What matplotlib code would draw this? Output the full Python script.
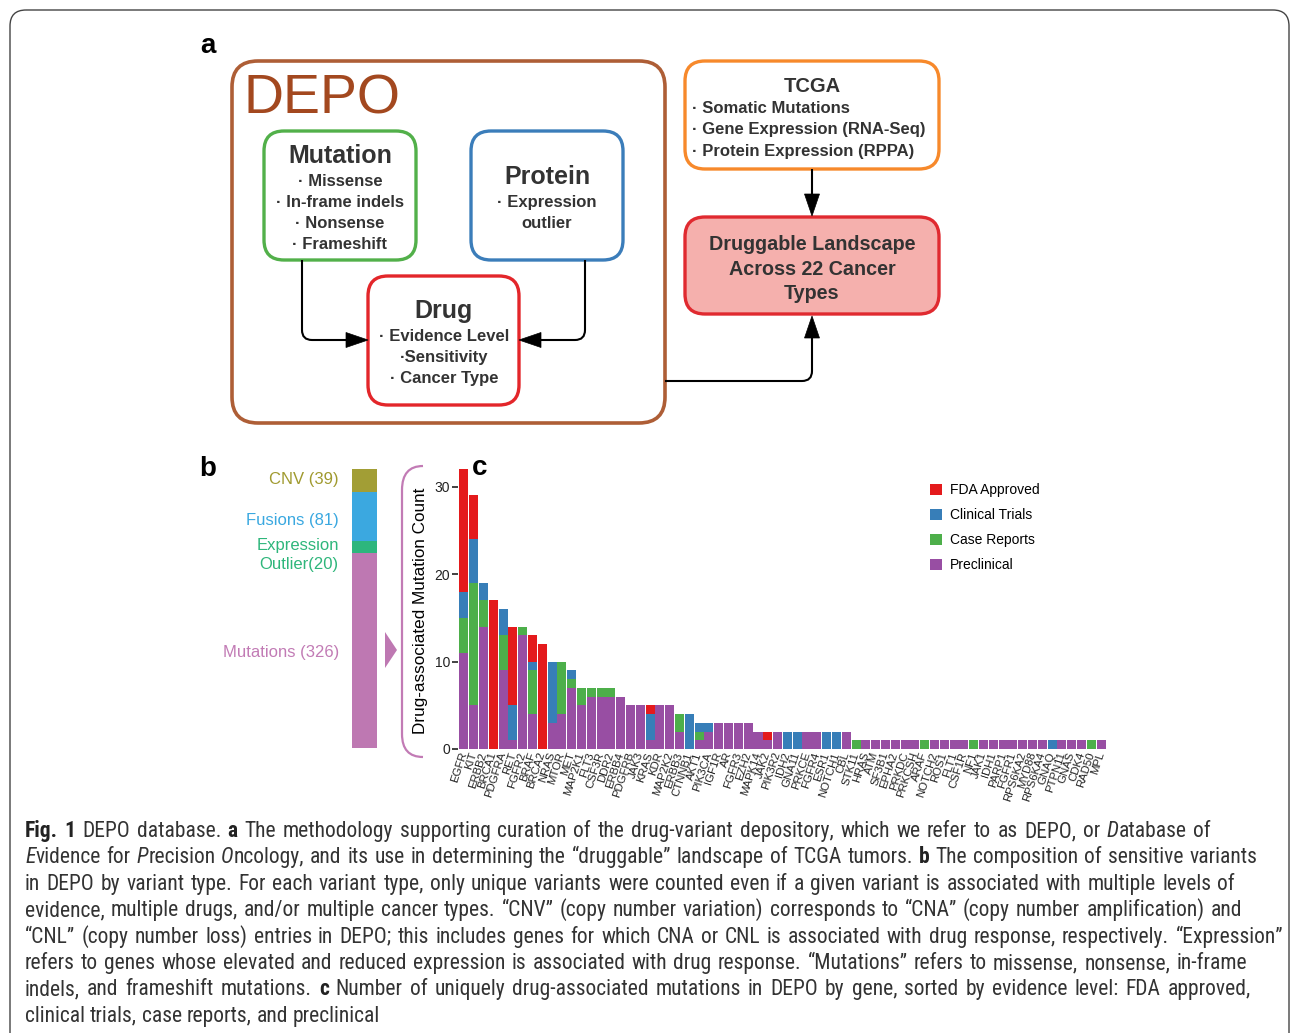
import matplotlib
matplotlib.use("Agg")
import matplotlib.pyplot as plt
from matplotlib.patches import FancyBboxPatch, Polygon, PathPatch, Patch
from matplotlib.path import Path
from matplotlib import font_manager
from matplotlib.transforms import IdentityTransform
import numpy as np

# ---------------- data ----------------
genes = ["EGFR", "KIT", "ERBB2", "BRCA1", "PDGFRA", "RET", "FGFR2", "BRAF", "BRCA2", "NRAS",
         "MTOR", "MET", "MAP2K1", "FLT3", "CSF3R", "DDR2", "ERBB4", "PDGFRB", "JAK3", "KRAS",
         "KDR", "MAP2K2", "ERBB3", "CTNNB1", "AKT1", "PIK3CA", "IGF1R", "AR", "FGFR3", "EZH2",
         "MAPK14", "JAK2", "PIK3R2", "IDH2", "GNA11", "PRKCE", "FGFR4", "ESR1", "NOTCH1", "CBL",
         "STK11", "HRAS", "ATM", "SF3B1", "EPHA2", "PRKDC", "PRKCSH", "ARAF", "NOTCH2", "ROS1",
         "FLT1", "CSF1R", "NF1", "JAK1", "IDH1", "PARP1", "FGFR1", "RPS6KA2", "MYD88", "RPS6KA4",
         "GNAQ", "PTPN11", "GNAS", "CDK4", "RAD50", "MPL"]
preclinical = [11, 5, 14, 0, 9, 1, 13, 4, 0, 3,
               4, 7, 5, 6, 6, 6, 6, 5, 5, 1,
               5, 5, 2, 0, 1, 2, 3, 3, 3, 3,
               2, 1, 2, 0, 0, 2, 2, 0, 0, 2,
               0, 1, 1, 1, 1, 1, 1, 0, 1, 1,
               1, 1, 0, 1, 1, 1, 1, 1, 1, 1,
               0, 1, 1, 1, 0, 1]
case_reports = [4, 14, 3, 0, 4, 0, 1, 5, 0, 0,
                6, 1, 2, 1, 1, 1, 0, 0, 0, 0,
                0, 0, 2, 0, 1, 0, 0, 0, 0, 0,
                0, 0, 0, 0, 0, 0, 0, 0, 0, 0,
                1, 0, 0, 0, 0, 0, 0, 1, 0, 0,
                0, 0, 1, 0, 0, 0, 0, 0, 0, 0,
                0, 0, 0, 0, 1, 0]
clinical_trials = [3, 5, 2, 0, 3, 4, 0, 1, 0, 7,
                   0, 1, 0, 0, 0, 0, 0, 0, 0, 3,
                   0, 0, 0, 4, 1, 1, 0, 0, 0, 0,
                   0, 0, 0, 2, 2, 0, 0, 2, 2, 0,
                   0, 0, 0, 0, 0, 0, 0, 0, 0, 0,
                   0, 0, 0, 0, 0, 0, 0, 0, 0, 0,
                   1, 0, 0, 0, 0, 0]
fda_approved = [14, 5, 0, 17, 0, 9, 0, 3, 12, 0,
                0, 0, 0, 0, 0, 0, 0, 0, 0, 1,
                0, 0, 0, 0, 0, 0, 0, 0, 0, 0,
                0, 1, 0, 0, 0, 0, 0, 0, 0, 0,
                0, 0, 0, 0, 0, 0, 0, 0, 0, 0,
                0, 0, 0, 0, 0, 0, 0, 0, 0, 0,
                0, 0, 0, 0, 0, 0]
evidence_labels = ["Preclinical", "Case Reports", "Clinical Trials", "FDA Approved"]
yticks_c = [0, 10, 20, 30]

comp_labels = ["Mutations (326)", "Expression\nOutlier(20)", "Fusions (81)", "CNV (39)"]
comp_values = [326, 20, 81, 39]

# ---------------- style ----------------
W, H = 1290, 1033
DPI = 100
names = {f.name for f in font_manager.fontManager.ttflist}
SANS = next((n for n in ["Liberation Sans", "Arial", "Helvetica", "Roboto"] if n in names), "DejaVu Sans")
CAPF = next((n for n in ["Liberation Sans Narrow", "Roboto Condensed", "Open Sans Condensed", "Lato"]
             if n in names), "DejaVu Sans")
plt.rcParams["font.family"] = [SANS, "DejaVu Sans"]

ev_colors = ["#984EA3", "#4DAF4A", "#377EB8", "#E41A1C"]
comp_colors = ["#BE78B2", "#2DB67D", "#3BA8E0", "#A29E35"]
comp_text_colors = ["#C27BB5", "#2EB67B", "#3AA8E0", "#A09A2F"]
comp_label_dy = [-1.5, -6, -3, 1]  # small vertical nudges of the labels (points)
DARK = "#333333"

fig = plt.figure(figsize=(W / DPI, H / DPI), dpi=DPI)
fig.patch.set_facecolor("white")

# overlay in pixel coordinates
ov = fig.add_axes([0, 0, 1, 1])
ov.set_xlim(0, W)
ov.set_ylim(H, 0)
ov.axis("off")
ov.patch.set_alpha(0)

# outer border
ov.add_patch(FancyBboxPatch((10, 10), 1279, 1100, boxstyle="round,pad=0,rounding_size=16",
                            ec="#444444", fc="none", lw=1.0, zorder=1))


def rbox(x0, y0, x1, y1, ec, fc="white", lw=2.4, r=20):
    ov.add_patch(FancyBboxPatch((x0, y0), x1 - x0, y1 - y0,
                                boxstyle=f"round,pad=0,rounding_size={r}",
                                ec=ec, fc=fc, lw=lw, zorder=2))


def txt(x, y, s, size, weight="bold", color=DARK, ha="center"):
    ov.text(x, y, s, fontsize=size, fontweight=weight, color=color, ha=ha, va="baseline",
            family=[SANS, "DejaVu Sans"], zorder=4)


# ---------------- panel a ----------------
txt(200, 53, "a", 20, color="black", ha="left")
rbox(232, 61, 665, 423, "#AE5E36", lw=2.6, r=26)
txt(243, 113, "DEPO", 40, weight="normal", color="#A3481F", ha="left")

rbox(264, 131, 416, 260, "#52B04A")
txt(340, 163, "Mutation", 18)
for i, s in enumerate(["· Missense", "· In-frame indels", "· Nonsense", "· Frameshift"]):
    txt(340, 186 + 21 * i, s, 12)

rbox(471, 131, 623, 260, "#3B7DBA")
txt(547, 184, "Protein", 18)
for i, s in enumerate(["· Expression", "outlier"]):
    txt(547, 207 + 21 * i, s, 12)

rbox(368, 276, 519, 405, "#E3262A")
txt(444, 318, "Drug", 18)
for i, s in enumerate(["· Evidence Level", "·Sensitivity", "· Cancer Type"]):
    txt(444, 341 + 21 * i, s, 12)

rbox(685, 61, 939, 169, "#F7892B")
txt(812, 92, "TCGA", 14.5)
for i, s in enumerate(["· Somatic Mutations", "· Gene Expression (RNA-Seq)", "· Protein Expression (RPPA)"]):
    txt(692, 113 + 21.3 * i, s, 12, ha="left")

rbox(685, 217, 939, 314, "#E02A30", fc="#F5B0AD")
for i, s in enumerate(["Druggable Landscape", "Across 22 Cancer", "Types"]):
    txt(812, 250 + 24.7 * i, s, 14.2)

M, L, C3 = Path.MOVETO, Path.LINETO, Path.CURVE3


def line_path(verts, codes):
    ov.add_patch(PathPatch(Path(verts, codes), fill=False, ec="black", lw=1.5, zorder=3))


def head(pts):
    ov.add_patch(Polygon(pts, closed=True, fc="black", ec="black", lw=0.5, zorder=3))


line_path([(302, 260), (302, 330), (302, 340), (312, 340), (348, 340)], [M, L, C3, C3, L])
head([(346, 332.5), (368, 340), (346, 347.5)])
line_path([(585, 260), (585, 330), (585, 340), (575, 340), (539, 340)], [M, L, C3, C3, L])
head([(541, 332.5), (519, 340), (541, 347.5)])
line_path([(812, 169), (812, 196)], [M, L])
head([(804.5, 194), (812, 216), (819.5, 194)])
line_path([(665, 381), (802, 381), (812, 381), (812, 371), (812, 336)], [M, L, C3, C3, L])
head([(804.5, 338), (812, 316), (819.5, 338)])

# ---------------- panel b ----------------
txt(199, 476, "b", 20, color="black", ha="left")
axb = fig.add_axes([352 / W, 1 - 748 / H, 25 / W, 279 / H])
bottom = 0
for val, col, lab, tcol, dy in zip(comp_values, comp_colors, comp_labels, comp_text_colors, comp_label_dy):
    axb.bar(0, val, bottom=bottom, width=1, color=col, linewidth=0)
    axb.annotate(lab, xy=(0, bottom + val / 2), xycoords=("axes fraction", "data"),
                 xytext=(-9.5, dy), textcoords="offset points", ha="right", va="center",
                 multialignment="right", fontsize=12, color=tcol, linespacing=1.32)
    bottom += val
axb.set_xlim(-0.5, 0.5)
axb.set_ylim(0, sum(comp_values))
axb.axis("off")

# arrow triangle and brace
ov.add_patch(Polygon([(385, 632), (397, 650), (385, 668)], closed=True, fc="#BE78B2", ec="none", zorder=2))
ov.add_patch(PathPatch(Path([(423, 466), (402, 466), (402, 490), (402, 734), (402, 757), (423, 757)],
                            [M, C3, C3, L, C3, C3]), fill=False, ec="#C27BB5", lw=1.6, zorder=2))

# ---------------- panel c ----------------
txt(472, 475, "c", 20, color="black", ha="left")
px_per_unit = 8.743
ymax = 33
axc = fig.add_axes([458 / W, 1 - 749 / H, 649 / W, ymax * px_per_unit / H])
axc.patch.set_alpha(0)
x = np.arange(len(genes))
stack = [preclinical, case_reports, clinical_trials, fda_approved]
btm = np.zeros(len(genes))
handles = []
for vals, col, lab in zip(stack, ev_colors, evidence_labels):
    vals = np.asarray(vals, dtype=float)
    axc.bar(x, vals, bottom=btm, width=0.92, color=col, linewidth=0)
    btm += vals
    handles.append(Patch(facecolor=col, edgecolor="none", label=lab))
axc.set_xlim(-0.6, len(genes) - 0.4)
axc.set_ylim(0, ymax)
for sp in axc.spines.values():
    sp.set_visible(False)
axc.set_yticks(yticks_c)
axc.set_yticklabels([str(v) for v in yticks_c], fontsize=10, color="#222222")
axc.tick_params(axis="y", length=4, width=1.3, color="#333333", pad=1.5)
axc.set_xticks(x)
axc.set_xticklabels(genes, fontsize=8.2, color="#222222")
axc.tick_params(axis="x", length=0, pad=2.5)
for lbl in axc.get_xticklabels():
    lbl.set_rotation(72)
    lbl.set_ha("right")
    lbl.set_va("center")
    lbl.set_rotation_mode("anchor")
axc.set_ylabel("Drug-associated Mutation Count", fontsize=12.3, color="black")
axc.yaxis.set_label_coords((428 - 458) / 649, (749 - 611) / (ymax * px_per_unit))
leg = axc.legend(handles=handles[::-1], loc="upper left",
                 bbox_to_anchor=(930 / W, 1 - 483 / H), bbox_transform=fig.transFigure,
                 frameon=False, fontsize=10, handlelength=0.85, handleheight=0.85,
                 handletextpad=0.6, labelspacing=0.8, borderpad=0, borderaxespad=0)

# ---------------- caption ----------------
cap_lines = [
    [("Fig. 1", "b"), (" DEPO database. ", "n"), ("a", "b"),
     (" The methodology supporting curation of the drug-variant depository, which we refer to as DEPO, or ", "n"),
     ("D", "i"), ("atabase of", "n")],
    [("E", "i"), ("vidence for ", "n"), ("P", "i"), ("recision ", "n"), ("O", "i"),
     ("ncology, and its use in determining the “druggable” landscape of TCGA tumors. ", "n"), ("b", "b"),
     (" The composition of sensitive variants", "n")],
    [("in DEPO by variant type. For each variant type, only unique variants were counted even if a given variant is associated with multiple levels of", "n")],
    [("evidence, multiple drugs, and/or multiple cancer types. “CNV” (copy number variation) corresponds to “CNA” (copy number amplification) and", "n")],
    [("“CNL” (copy number loss) entries in DEPO; this includes genes for which CNA or CNL is associated with drug response, respectively. “Expression”", "n")],
    [("refers to genes whose elevated and reduced expression is associated with drug response. “Mutations” refers to missense, nonsense, in-frame", "n")],
    [("indels, and frameshift mutations. ", "n"), ("c", "b"),
     (" Number of uniquely drug-associated mutations in DEPO by gene, sorted by evidence level: FDA approved,", "n")],
    [("clinical trials, case reports, and preclinical", "n")],
]
cap_ends = [1211, 1257, 1235, 1242, 1283, 1247, 1251, None]
cap_x0 = 25
cap_base0 = 837
cap_pitch = 26.4

renderer = fig.canvas.get_renderer()
STY = {"n": dict(fontweight="normal", fontstyle="normal", color="#333333"),
       "b": dict(fontweight="bold", fontstyle="normal", color="#222222"),
       "i": dict(fontweight="normal", fontstyle="italic", color="#333333")}


def words_of(segs):
    words, cur = [], []
    for text, st in segs:
        parts = text.split(" ")
        for i, p in enumerate(parts):
            if i > 0 and cur:
                words.append(cur)
                cur = []
            if p:
                cur.append((p, st))
    if cur:
        words.append(cur)
    return words


def measure(s, st, size):
    t = fig.text(0, 0, s, fontsize=size, family=[CAPF, "DejaVu Sans"], **STY[st])
    w = t.get_window_extent(renderer=renderer).width
    t.remove()
    return w


def layout(size):
    sp = measure("n n", "n", size) - measure("nn", "n", size)
    out = []
    ratio = 10.0
    for segs, end in zip(cap_lines, cap_ends):
        ws = words_of(segs)
        wl = [[(p, st, measure(p, st, size)) for p, st in w] for w in ws]
        tot = sum(sum(pc[2] for pc in w) for w in wl)
        n = len(wl) - 1
        if end is not None and n > 0:
            gap = (end - cap_x0 - tot) / n
            ratio = min(ratio, (end - cap_x0) / (tot + sp * n))
        else:
            gap = sp
        out.append((wl, gap))
    return out, ratio


size = 13.5
lay, ratio = layout(size)
size = min(15.5, size * ratio)
lay, ratio = layout(size)

for i, (wl, gap) in enumerate(lay):
    xcur = cap_x0
    yb = H - (cap_base0 + cap_pitch * i)
    for w in wl:
        for p, st, wd in w:
            fig.text(xcur, yb, p, fontsize=size, family=[CAPF, "DejaVu Sans"], transform=IdentityTransform(),
                     va="baseline", ha="left", **STY[st])
            xcur += wd
        xcur += gap

fig.savefig("out.png", dpi=DPI, facecolor="white")
